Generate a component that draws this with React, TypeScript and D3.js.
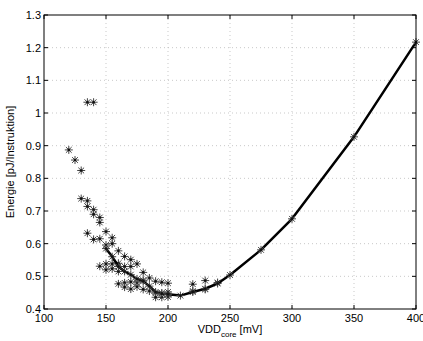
import React from "react";
import * as d3 from "d3";

const scatterX = [120,125,130,130,135,135,135,135,140,140,140,140,145,145,145,145,150,150,150,150,155,155,155,155,160,160,160,160,165,165,165,165,170,170,170,170,175,175,175,180,180,180,185,185,190,190,190,195,195,195,200,200,200,220,220,230,230,240];
const scatterY = [0.887,0.856,0.824,0.738,1.033,0.731,0.714,0.632,1.033,0.704,0.69,0.613,0.68,0.665,0.615,0.531,0.637,0.596,0.538,0.52,0.618,0.6,0.538,0.523,0.578,0.54,0.515,0.477,0.561,0.53,0.48,0.467,0.551,0.53,0.483,0.461,0.538,0.48,0.468,0.512,0.488,0.46,0.495,0.455,0.485,0.449,0.436,0.482,0.449,0.436,0.479,0.452,0.437,0.476,0.455,0.487,0.46,0.481];

const lineX = [150,155,160,165,170,175,180,185,190,195,200,210,220,230,240,250,275,300,350,400];
const lineY = [0.585,0.56,0.53,0.515,0.505,0.492,0.485,0.47,0.452,0.447,0.445,0.441,0.452,0.462,0.478,0.504,0.581,0.676,0.927,1.217];

const xTicks = [100,150,200,250,300,350,400];
const yTicks = [0.4,0.5,0.6,0.7,0.8,0.9,1,1.1,1.2,1.3];

const L = 44, R = 416, T = 15, B = 309;

function Star({ cx, cy }: { cx: number; cy: number }) {
  const r = 4;
  const d = r * 0.72;
  return (
    <g>
      <path
        d={`M${cx - r},${cy}H${cx + r}M${cx},${cy - r}V${cy + r}M${cx - d},${cy - d}L${cx + d},${cy + d}M${cx - d},${cy + d}L${cx + d},${cy - d}`}
        stroke="#444"
        strokeWidth={1}
        fill="none"
      />
      <circle cx={cx} cy={cy} r={1.3} fill="#111" />
    </g>
  );
}

export default function App() {
  const x = d3.scaleLinear().domain([100, 400]).range([L, R]);
  const y = d3.scaleLinear().domain([0.4, 1.3]).range([B, T]);
  const line = d3.line<number>().x((_, i) => x(lineX[i])).y((v) => y(v));
  const font = "Liberation Sans, Arial, sans-serif";
  return (
    <svg width={423} height={341} style={{ position: "absolute", left: 0, top: 0 }}>
      <rect width={423} height={341} fill="white" />
      {xTicks.slice(1, -1).map((t) => (
        <line key={"gx" + t} x1={x(t)} x2={x(t)} y1={T} y2={B} stroke="#bbb" strokeWidth={0.8} strokeDasharray="1,3" />
      ))}
      {yTicks.slice(1, -1).map((t) => (
        <line key={"gy" + t} x1={L} x2={R} y1={y(t)} y2={y(t)} stroke="#bbb" strokeWidth={0.8} strokeDasharray="1,3" />
      ))}
      {scatterX.map((v, i) => (
        <Star key={"s" + i} cx={x(v)} cy={y(scatterY[i])} />
      ))}
      <path d={line(lineY) || ""} fill="none" stroke="#000" strokeWidth={2.5} strokeLinejoin="round" />
      {lineX.map((v, i) => (
        <Star key={"l" + i} cx={x(v)} cy={y(lineY[i])} />
      ))}
      <rect x={L} y={T} width={R - L} height={B - T} fill="none" stroke="#000" strokeWidth={1} />
      {xTicks.map((t) => (
        <g key={"tx" + t}>
          <line x1={x(t)} x2={x(t)} y1={B} y2={B - 4} stroke="#000" />
          <line x1={x(t)} x2={x(t)} y1={T} y2={T + 4} stroke="#000" />
          <text x={x(t)} y={B + 13} textAnchor="middle" fontSize={11} fontFamily={font}>{t}</text>
        </g>
      ))}
      {yTicks.map((t) => (
        <g key={"ty" + t}>
          <line x1={L} x2={L + 4} y1={y(t)} y2={y(t)} stroke="#000" />
          <line x1={R} x2={R - 4} y1={y(t)} y2={y(t)} stroke="#000" />
          <text x={L - 3} y={y(t) + 4} textAnchor="end" fontSize={11} fontFamily={font}>{String(t)}</text>
        </g>
      ))}
      <text x={230} y={333} textAnchor="middle" fontSize={11} fontFamily={font}>
        VDD<tspan fontSize={8} dy={4}>core</tspan><tspan dy={-4}> [mV]</tspan>
      </text>
      <text transform={`translate(14,${(T + B) / 2}) rotate(-90)`} textAnchor="middle" fontSize={11} fontFamily={font}>
        Energie [pJ/Instruktion]
      </text>
    </svg>
  );
}
